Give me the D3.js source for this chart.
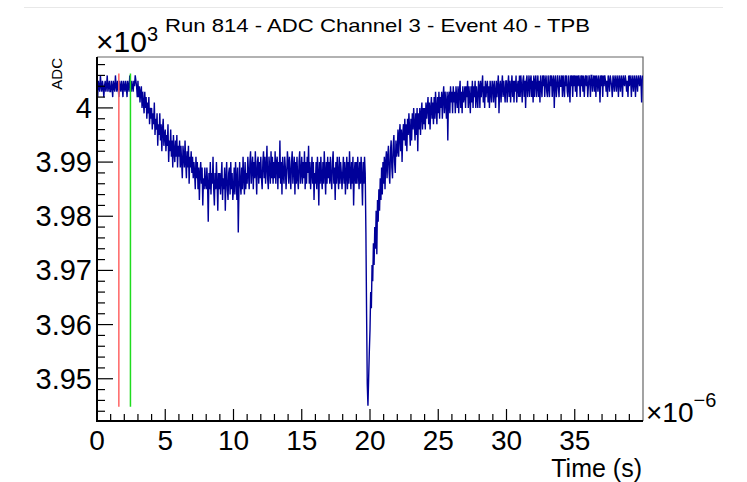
<!DOCTYPE html>
<html>
<head>
<meta charset="utf-8">
<script src="https://cdn.jsdelivr.net/npm/d3@7"></script>
<style>
  body { margin: 0; background: #fff; }
  text { font-family: "Liberation Sans", Arial, Helvetica, sans-serif; fill: #000; }
</style>
</head>
<body>
<svg id="chart" width="747" height="482"></svg>
<script>
// ---- data ----
const title = "Run 814 - ADC Channel 3 - Event 40 - TPB";
const sampleStepUs = 0.05;   // one sample per 50 ns
// ADC counts, one row per microsecond
const adc = [
  4004,4002,4005,4004,4003,4006,4004,4003,4005,4004,4002,4004,4005,4003,4004,4006,4003,4004,4005,4003,
  4003,4005,4004,4002,4005,4004,4003,4006,4004,4003,4005,4004,4002,4005,4004,4003,4005,4004,4002,4005,
  4004,4003,4005,4004,4002,4005,4004,4003,4006,4004,4003,4005,4004,4003,4005,4004,4006,4005,4004,4002,
  4005,4002,4004,4001,4003,4004,4000,4003,4001,3999,4003,4000,4002,3998,4001,3999,4002,3997,4000,3998,
  4000,3996,3999,3997,4001,3995,3998,3996,3999,3993,3997,3995,3999,3994,3997,3992,3996,3998,3993,3995,
  3996,3992,3995,3993,3997,3990,3994,3992,3996,3991,3994,3989,3995,3992,3990,3994,3991,3995,3989,3993,
  3991,3994,3989,3993,3990,3987,3993,3991,3989,3994,3990,3987,3992,3989,3993,3986,3991,3989,3992,3988,
  3991,3987,3990,3988,3985,3991,3987,3990,3985,3989,3983,3988,3990,3986,3989,3982,3987,3985,3989,3986,
  3985,3989,3986,3979,3988,3985,3990,3984,3988,3986,3991,3985,3982,3988,3985,3990,3986,3981,3988,3985,
  3988,3984,3987,3990,3983,3987,3985,3989,3981,3987,3990,3985,3983,3988,3989,3984,3990,3985,3988,3983,
  3985,3989,3984,3990,3987,3983,3989,3977,3985,3990,3986,3984,3989,3985,3991,3987,3984,3990,3985,3988,
  3986,3991,3988,3985,3990,3992,3986,3989,3991,3985,3990,3987,3992,3988,3984,3990,3991,3986,3990,3987,
  3991,3987,3985,3990,3992,3987,3991,3986,3989,3993,3987,3985,3991,3989,3986,3992,3987,3991,3986,3990,
  3987,3992,3986,3990,3991,3985,3990,3987,3994,3986,3990,3984,3991,3988,3986,3991,3989,3985,3988,3992,
  3990,3986,3991,3988,3985,3990,3992,3986,3989,3991,3984,3990,3986,3991,3987,3985,3990,3992,3986,3988,
  3991,3986,3990,3987,3992,3985,3990,3986,3991,3988,3993,3986,3990,3985,3988,3991,3986,3990,3983,3988,
  3986,3990,3985,3991,3988,3982,3990,3986,3991,3987,3985,3990,3986,3992,3988,3984,3990,3986,3991,3987,
  3990,3986,3991,3987,3985,3990,3992,3986,3989,3983,3990,3986,3991,3988,3985,3991,3986,3990,3988,3985,
  3988,3991,3986,3990,3984,3988,3991,3985,3990,3986,3992,3988,3985,3990,3986,3991,3982,3988,3990,3986,
  3990,3986,3991,3988,3985,3990,3986,3991,3987,3982,3990,3986,3991,3988,3977,3962,3949,3945,3950,3955,
  3959,3966,3963,3971,3968,3975,3971,3978,3974,3981,3973,3983,3979,3985,3981,3987,3983,3989,3984,3990,
  3986,3991,3985,3990,3992,3987,3991,3993,3988,3986,3992,3994,3989,3987,3993,3995,3990,3988,3994,3991,
  3992,3996,3991,3995,3997,3992,3996,3990,3995,3997,3994,3998,3993,3997,3992,3998,3995,3999,3996,3993,
  3998,3994,3999,3996,4000,3997,3994,3999,3995,4000,3992,3999,3996,4000,3995,3999,4001,3996,4000,3997,
  4000,3996,4001,3998,4000,4002,3997,4001,3996,4000,4002,3998,4001,3997,4002,3998,4003,4000,3997,4002,
  3999,4003,3998,4002,4000,4003,3998,4002,4004,3999,4003,4001,3998,4003,3994,4002,4003,3999,4004,4001,
  4003,3999,4004,4001,4003,3999,4004,4002,4000,4004,3999,4003,4005,4000,4003,3999,4004,4001,4002,4004,
  4000,4004,4002,4005,4000,4004,4002,3999,4004,4001,4005,4000,4004,4002,4005,4000,4004,4002,4000,4005,
  4004,4000,4005,4002,4004,4006,4001,4004,4000,4005,4002,4004,4005,4001,4004,4000,4005,4003,4001,4005,
  4004,4001,4005,4003,4000,4005,4002,4004,4006,3999,4004,4005,4001,4004,4006,4002,4005,4003,4001,4005,
  4005,4001,4004,4006,4002,4005,4001,4004,4006,4002,4005,4001,4005,4003,4006,4001,4004,4005,4002,4006,
  4002,4006,4004,4001,4005,4006,4002,4005,4000,4005,4006,4002,4004,4006,4002,4005,4006,4002,4005,4001,
  4006,4002,4005,4006,4002,4004,4006,4002,4005,4001,4006,4004,4002,4006,4004,4006,4002,4005,4006,4003,
  4002,4006,4004,4002,4006,4004,4006,4002,4005,4006,4000,4005,4006,4002,4004,4006,4004,4002,4006,4004,
  4004,4006,4002,4006,4004,4002,4006,4004,4006,4003,4002,4006,4004,4001,4006,4004,4006,4002,4006,4004,
  4006,4003,4006,4002,4006,4004,4006,4005,4002,4006,4004,4006,4003,4006,4002,4005,4006,4004,4006,4002,
  4004,4006,4005,4002,4006,4006,4003,4005,4006,4003,4006,4002,4006,4005,4003,4006,4005,4001,4006,4004,
  4006,4002,4006,4004,4006,4005,4003,4005,4002,4006,4005,4003,4006,4005,4004,4002,4006,4005,4003,4006,
  4005,4003,4006,4005,4002,4006,4005,4003,4006,4005,4002,4006,4005,4004,4006,4005,4003,4005,4002,4006,
  4004,4006,4005,4002,4006,4005,4003,4006,4005,4002,4006,4005,4003,4006,4005,4004,4006,4005,4001,4006
];
const markerTimesUs = [1.6, 2.45];
const markerColors = ["#ff6464", "#1fdc1f"];
const xTicks = [0, 5, 10, 15, 20, 25, 30, 35];
const xMinorTicks = d3.range(1, 40);
const yTicks = [3950, 3960, 3970, 3980, 3990, 4000];
const yMinorTicks = d3.range(3944, 4010, 2);

// ---- layout ----
const frame = { left: 97, right: 643, top: 57, bottom: 421 };
const svg = d3.select("#chart");

const x = d3.scaleLinear().domain([0, 40]).range([frame.left, frame.right]);
const y = d3.scaleLinear().domain([3942.2, 4009.4]).range([frame.bottom, frame.top]);

const points = adc.map((v, i) => ({ t: i * sampleStepUs, v }));

// pad border line
svg.append("line").attr("x1", 24).attr("x2", 723).attr("y1", 7.5).attr("y2", 7.5)
  .attr("stroke", "#e8e8e8").attr("stroke-width", 1);

// frame top/right
svg.append("path")
  .attr("d", `M${frame.left},${frame.top}H${frame.right}V${frame.bottom}`)
  .attr("fill", "none").attr("stroke", "#666").attr("stroke-width", 1.2);

// waveform
svg.append("clipPath").attr("id", "clip").append("rect")
  .attr("x", frame.left).attr("y", frame.top)
  .attr("width", frame.right - frame.left).attr("height", frame.bottom - frame.top);

svg.append("path").datum(points)
  .attr("clip-path", "url(#clip)")
  .attr("fill", "none").attr("stroke", "#000099").attr("stroke-width", 1.4)
  .attr("d", d3.line().x(d => x(d.t)).y(d => y(d.v)));

// marker lines spanning the waveform range
const [vMin, vMax] = d3.extent(adc);
svg.selectAll(".marker").data(markerTimesUs).enter().append("line")
  .attr("class", "marker")
  .attr("x1", d => x(d)).attr("x2", d => x(d))
  .attr("y1", y(vMin) + 1).attr("y2", y(vMax) - 2)
  .attr("stroke", (d, i) => markerColors[i]).attr("stroke-width", 1.5);

// y axis ticks (inward)
const gy = svg.append("g");
gy.selectAll(".ymaj").data(yTicks).enter().append("line")
  .attr("x1", frame.left).attr("x2", frame.left + 16)
  .attr("y1", d => y(d)).attr("y2", d => y(d))
  .attr("stroke", "#000").attr("stroke-width", 1.2);
gy.selectAll(".ymin").data(yMinorTicks.filter(v => !yTicks.includes(v))).enter().append("line")
  .attr("x1", frame.left).attr("x2", frame.left + 8)
  .attr("y1", d => y(d)).attr("y2", d => y(d))
  .attr("stroke", "#000").attr("stroke-width", 1.2);
gy.selectAll(".ylab").data(yTicks).enter().append("text")
  .attr("x", 92).attr("y", d => y(d) + 10)
  .attr("text-anchor", "end").attr("font-size", 29)
  .text(d => String(d / 1000));

// x axis ticks (inward)
const gx = svg.append("g");
gx.selectAll(".xmaj").data(xTicks).enter().append("line")
  .attr("x1", d => x(d)).attr("x2", d => x(d))
  .attr("y1", frame.bottom).attr("y2", frame.bottom - 12)
  .attr("stroke", "#000").attr("stroke-width", 1.2);
gx.selectAll(".xmin").data(xMinorTicks.filter(v => !xTicks.includes(v))).enter().append("line")
  .attr("x1", d => x(d)).attr("x2", d => x(d))
  .attr("y1", frame.bottom).attr("y2", frame.bottom - 7)
  .attr("stroke", "#000").attr("stroke-width", 1.2);
gx.selectAll(".xlab").data(xTicks).enter().append("text")
  .attr("x", d => x(d)).attr("y", 450)
  .attr("text-anchor", "middle").attr("font-size", 28)
  .text(d => d);

// axis lines left/bottom
svg.append("path")
  .attr("d", `M${frame.left},${frame.top}V${frame.bottom}H${frame.right}`)
  .attr("fill", "none").attr("stroke", "#000").attr("stroke-width", 2);

// exponents
const e3 = svg.append("text").attr("x", 96).attr("y", 52).attr("font-size", 30);
e3.append("tspan").text("\u00d710");
e3.append("tspan").attr("font-size", 20).attr("dy", -11).text("3");

const e6 = svg.append("text").attr("x", 646).attr("y", 422).attr("font-size", 28);
e6.append("tspan").text("\u00d710");
e6.append("tspan").attr("font-size", 20).attr("dy", -15).text("\u22126");

// axis titles
svg.append("text").attr("x", 642).attr("y", 477)
  .attr("text-anchor", "end").attr("font-size", 25).text("Time (s)");
svg.append("text").attr("transform", "translate(62,58) rotate(-90)")
  .attr("text-anchor", "end").attr("font-size", 15).text("ADC");

// title
svg.append("text").attr("x", 165).attr("y", 32)
  .attr("font-size", 19).attr("textLength", 425).attr("lengthAdjust", "spacingAndGlyphs")
  .text(title);
</script>
</body>
</html>
